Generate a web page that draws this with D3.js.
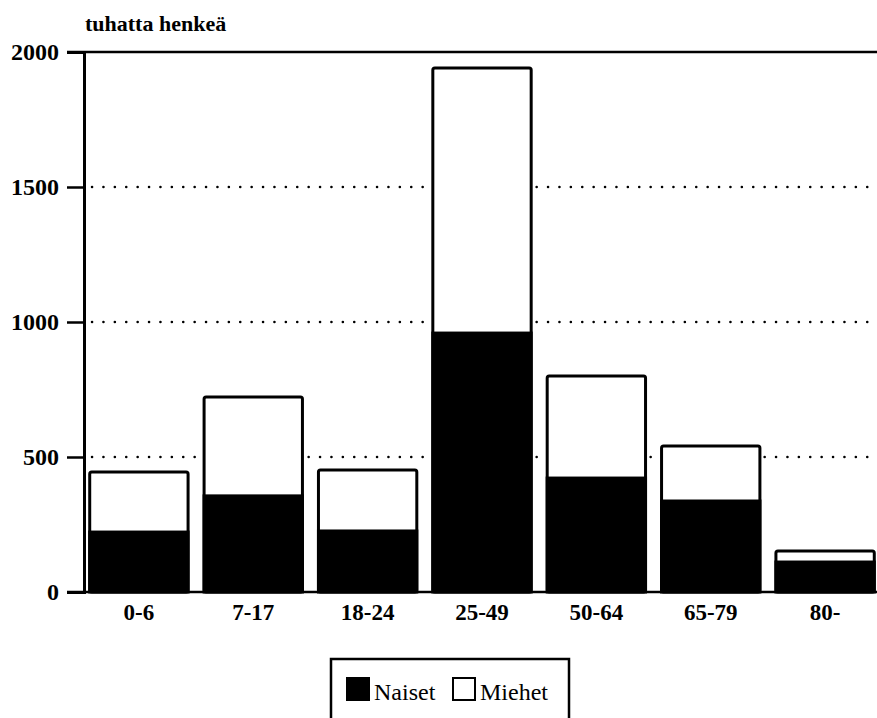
<html lang="fi">
<head>
    <meta charset="utf-8">
    <title>Väestö ikäryhmittäin</title>
    <script src="https://cdn.jsdelivr.net/npm/d3@7/dist/d3.min.js"></script>
    <style>
        body { margin: 0; background: #fff; }
        text { font-family: "Liberation Serif", "DejaVu Serif", serif; font-weight: bold; fill: #000; }
    </style>
</head>
<body></body>
<script type="text/javascript">

    // data (tuhatta henkeä)
    const categories = ["0-6", "7-17", "18-24", "25-49", "50-64", "65-79", "80-"];
    const naiset = [222, 356, 226, 959, 422, 337, 111];
    const totals = [444, 722, 452, 1941, 800, 541, 152];
    const yTicks = [0, 500, 1000, 1500, 2000];
    const legendLabels = ["Naiset", "Miehet"];

    const width = 877, height = 718;

    const svg = d3.select("body")
        .append("svg")
        .attr("width", width)
        .attr("height", height);

    const x = d3.scaleBand()
        .domain(categories)
        .range([84, 880])
        .paddingInner(0.14)
        .paddingOuter(0.05);

    const y = d3.scaleLinear()
        .domain([0, 2000])
        .range([592, 52]);

    // unit title
    svg.append("text")
        .attr("x", 85)
        .attr("y", 31)
        .style("font-size", "22px")
        .text("tuhatta henkeä");

    // dotted grid lines
    svg.selectAll(".grid")
        .data(yTicks.filter(d => d > 0 && d < 2000))
        .enter()
        .append("line")
        .attr("x1", 92)
        .attr("x2", 877)
        .attr("y1", d => y(d))
        .attr("y2", d => y(d))
        .attr("stroke", "#000")
        .attr("stroke-width", 2.5)
        .attr("stroke-linecap", "round")
        .attr("stroke-dasharray", "0.1 11.3");

    // top and bottom full lines
    [0, 2000].forEach(v => {
        svg.append("line")
            .attr("x1", 67).attr("x2", 877)
            .attr("y1", y(v)).attr("y2", y(v))
            .attr("stroke", "#000")
            .attr("stroke-width", 2.5);
    });

    // y axis
    const yAxis = svg.append("g")
        .attr("transform", "translate(84,0)")
        .call(d3.axisLeft(y).tickValues(yTicks).tickSize(17).tickPadding(8).tickFormat(d3.format("d")));
    yAxis.select(".domain").attr("stroke-width", 3);
    yAxis.selectAll(".tick line").attr("stroke-width", 2.5);
    yAxis.selectAll(".tick text")
        .style("font-size", "24px")
        .style("font-family", "'Liberation Serif', serif")
        .style("font-weight", "bold");

    // bars: white total with outline, black naiset part
    const bars = svg.selectAll(".bar")
        .data(categories)
        .enter()
        .append("g");

    bars.append("rect")
        .attr("x", d => x(d))
        .attr("width", x.bandwidth())
        .attr("y", (d, i) => y(totals[i]))
        .attr("height", (d, i) => y(0) - y(totals[i]))
        .attr("rx", 2)
        .attr("fill", "#fff")
        .attr("stroke", "#000")
        .attr("stroke-width", 3);

    bars.append("rect")
        .attr("x", d => x(d))
        .attr("width", x.bandwidth())
        .attr("y", (d, i) => y(naiset[i]))
        .attr("height", (d, i) => y(0) - y(naiset[i]))
        .attr("fill", "#000")
        .attr("stroke", "#000")
        .attr("stroke-width", 3);

    // x labels
    svg.selectAll(".xlabel")
        .data(categories)
        .enter()
        .append("text")
        .attr("x", d => x(d) + x.bandwidth() / 2)
        .attr("y", 620)
        .attr("text-anchor", "middle")
        .style("font-size", "23px")
        .text(d => d);

    // legend
    const legend = svg.append("g");
    legend.append("rect")
        .attr("x", 331).attr("y", 659)
        .attr("width", 238).attr("height", 80)
        .attr("fill", "#fff")
        .attr("stroke", "#000")
        .attr("stroke-width", 2.5);

    const legendX = [347, 453];
    legendLabels.forEach((lab, i) => {
        legend.append("rect")
            .attr("x", legendX[i]).attr("y", 678)
            .attr("width", 22).attr("height", 22)
            .attr("fill", i === 0 ? "#000" : "#fff")
            .attr("stroke", "#000")
            .attr("stroke-width", 2);
        legend.append("text")
            .attr("x", legendX[i] + 27)
            .attr("y", 700)
            .style("font-size", "24px")
            .style("font-weight", "normal")
            .text(lab);
    });

</script>
</html>
